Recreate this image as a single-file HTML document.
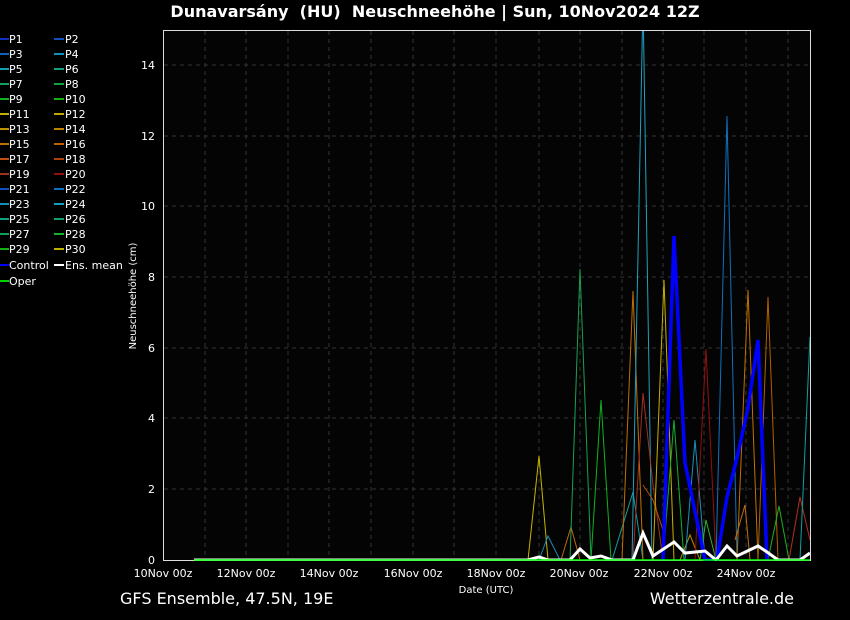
<!DOCTYPE html>
<html><head><meta charset="utf-8"><style>
body{margin:0;background:#000;width:850px;height:620px;overflow:hidden;font-family:"DejaVu Sans","Liberation Sans",sans-serif;}
</style></head><body>
<svg width="850" height="620" xmlns="http://www.w3.org/2000/svg" style="position:absolute;left:0;top:0">
<rect width="850" height="620" fill="#000"/>
<text x="435" y="17" fill="#fff" font-size="16" font-weight="bold" text-anchor="middle" font-family="DejaVu Sans, sans-serif" xml:space="preserve">Dunavarsány  (HU)  Neuschneehöhe | Sun, 10Nov2024 12Z</text>
<rect x="163.5" y="30.5" width="647" height="530" fill="#040404" stroke="#ddd" stroke-width="1"/>
<g stroke="#333" stroke-dasharray="4,4" stroke-width="1">
<line x1="205" y1="31" x2="205" y2="560"/><line x1="246" y1="31" x2="246" y2="560"/><line x1="288" y1="31" x2="288" y2="560"/><line x1="329" y1="31" x2="329" y2="560"/><line x1="371" y1="31" x2="371" y2="560"/><line x1="413" y1="31" x2="413" y2="560"/><line x1="454" y1="31" x2="454" y2="560"/><line x1="496" y1="31" x2="496" y2="560"/><line x1="539" y1="31" x2="539" y2="560"/><line x1="580" y1="31" x2="580" y2="560"/><line x1="622" y1="31" x2="622" y2="560"/><line x1="663" y1="31" x2="663" y2="560"/><line x1="704" y1="31" x2="704" y2="560"/><line x1="746" y1="31" x2="746" y2="560"/><line x1="788" y1="31" x2="788" y2="560"/>
<line x1="164" y1="65" x2="810" y2="65"/><line x1="164" y1="136" x2="810" y2="136"/><line x1="164" y1="206" x2="810" y2="206"/><line x1="164" y1="277" x2="810" y2="277"/><line x1="164" y1="348" x2="810" y2="348"/><line x1="164" y1="418" x2="810" y2="418"/><line x1="164" y1="489" x2="810" y2="489"/>
</g>
<g fill="#fff" font-size="11" text-anchor="end">
<text x="155" y="69">14</text><text x="155" y="140">12</text><text x="155" y="210">10</text><text x="155" y="281">8</text><text x="155" y="352">6</text><text x="155" y="422">4</text><text x="155" y="493">2</text><text x="155" y="564">0</text>
</g>
<g fill="#fff" font-size="11" text-anchor="middle">
<text x="163" y="577">10Nov 00z</text><text x="246" y="577">12Nov 00z</text><text x="329" y="577">14Nov 00z</text><text x="413" y="577">16Nov 00z</text><text x="496" y="577">18Nov 00z</text><text x="579" y="577">20Nov 00z</text><text x="663" y="577">22Nov 00z</text><text x="746" y="577">24Nov 00z</text>
<text x="486" y="593" font-size="10">Date (UTC)</text>
</g>
<text transform="translate(136,296) rotate(-90)" fill="#fff" font-size="10" text-anchor="middle">Neuschneehöhe (cm)</text>
<svg x="164" y="31" width="646" height="530" viewBox="164 31 646 530" overflow="hidden">
<g fill="none" stroke-width="1">
<polyline stroke="#c8b400" points="528,560 539,456 548,560"/>
<polyline stroke="#1a8ab0" points="539,560 548,536 560,560"/>
<polyline stroke="#c06a10" points="561,560 571,527 580,560"/>
<polyline stroke="#1aa050" points="570,560 580,269 591,560"/>
<polyline stroke="#10b020" points="591,560 601,400 611,560"/>
<polyline stroke="#10a0a0" points="612,560 633,492 643,560"/>
<polyline stroke="#c07000" points="622,560 633,291 643,560"/>
<polyline stroke="#20a0c0" points="632,560 643,0 652,560"/>
<polyline stroke="#a03020" points="633,560 643,393 653,485 663,560"/>
<polyline stroke="#b05010" points="643,485 653,500 663,530"/>
<polyline stroke="#c8b000" points="653,560 664,280 674,560"/>
<polyline stroke="#10b030" points="663,560 674,420 684,560"/>
<polyline stroke="#c09000" points="680,560 690,535 700,560"/>
<polyline stroke="#1a90c0" points="685,560 695,440 705,560"/>
<polyline stroke="#30b030" points="700,560 706,520 716,560"/>
<polyline stroke="#901010" points="695,560 706,349 716,560"/>
<polyline stroke="#1070c0" points="716,560 727,116 737,560"/>
<polyline stroke="#c07000" points="737,560 748,290 758,560"/>
<polyline stroke="#b06000" points="758,560 768,297 778,560"/>
<polyline stroke="#c07010" points="735,540 745,505 750,560"/>
<polyline stroke="#20b020" points="768,560 779,506 789,560"/>
<polyline stroke="#b03020" points="789,560 800,497 810,540"/>
<polyline stroke="#10a0a0" points="800,560 810,337"/>
<polyline stroke="#0000ff" stroke-width="3.5" points="663,560 674,236 685,463 705,560 717,560 727,497 737,458 748,408 758,340 767,560"/>
<polyline stroke="#fff" stroke-width="3" points="194,560 528,560 539,557 548,560 570,560 580,549 590,558 601,556 612,560 633,560 643,533 653,556 674,542 685,553 705,551 716,560 727,546 737,556 758,546 767,552 778,560 800,560 810,553"/>
<line x1="194" y1="560" x2="810" y2="560" stroke="#00ff00" stroke-width="1.5"/>
</g>
</svg>
<g font-size="11" fill="#fff">
<g stroke-width="2">
<line x1="0" y1="39" x2="9" y2="39" stroke="#1030c0"/><line x1="54" y1="39" x2="64" y2="39" stroke="#1050c0"/>
<line x1="0" y1="54" x2="9" y2="54" stroke="#1060c0"/><line x1="54" y1="54" x2="64" y2="54" stroke="#1090c0"/>
<line x1="0" y1="69" x2="9" y2="69" stroke="#10a0b0"/><line x1="54" y1="69" x2="64" y2="69" stroke="#10a080"/>
<line x1="0" y1="84" x2="9" y2="84" stroke="#10a060"/><line x1="54" y1="84" x2="64" y2="84" stroke="#10a040"/>
<line x1="0" y1="99" x2="9" y2="99" stroke="#10b020"/><line x1="54" y1="99" x2="64" y2="99" stroke="#10b010"/>
<line x1="0" y1="114" x2="9" y2="114" stroke="#c0b000"/><line x1="54" y1="114" x2="64" y2="114" stroke="#c0a800"/>
<line x1="0" y1="129" x2="9" y2="129" stroke="#c09000"/><line x1="54" y1="129" x2="64" y2="129" stroke="#c08000"/>
<line x1="0" y1="144" x2="9" y2="144" stroke="#c07000"/><line x1="54" y1="144" x2="64" y2="144" stroke="#c06000"/>
<line x1="0" y1="159" x2="9" y2="159" stroke="#c05010"/><line x1="54" y1="159" x2="64" y2="159" stroke="#b04010"/>
<line x1="0" y1="174" x2="9" y2="174" stroke="#a03020"/><line x1="54" y1="174" x2="64" y2="174" stroke="#901010"/>
<line x1="0" y1="189" x2="9" y2="189" stroke="#1050c0"/><line x1="54" y1="189" x2="64" y2="189" stroke="#1070c0"/>
<line x1="0" y1="204" x2="9" y2="204" stroke="#1090c0"/><line x1="54" y1="204" x2="64" y2="204" stroke="#10a0c0"/>
<line x1="0" y1="219" x2="9" y2="219" stroke="#10a080"/><line x1="54" y1="219" x2="64" y2="219" stroke="#10a070"/>
<line x1="0" y1="234" x2="9" y2="234" stroke="#10a050"/><line x1="54" y1="234" x2="64" y2="234" stroke="#10b030"/>
<line x1="0" y1="249" x2="9" y2="249" stroke="#10b010"/><line x1="54" y1="249" x2="64" y2="249" stroke="#c0b000"/>
<line x1="0" y1="265" x2="9" y2="265" stroke="#0000ff"/><line x1="54" y1="265" x2="64" y2="265" stroke="#fff"/>
<line x1="0" y1="281" x2="9" y2="281" stroke="#00d000"/>
</g>
<text x="9" y="43">P1</text><text x="65" y="43">P2</text>
<text x="9" y="58">P3</text><text x="65" y="58">P4</text>
<text x="9" y="73">P5</text><text x="65" y="73">P6</text>
<text x="9" y="88">P7</text><text x="65" y="88">P8</text>
<text x="9" y="103">P9</text><text x="65" y="103">P10</text>
<text x="9" y="118">P11</text><text x="65" y="118">P12</text>
<text x="9" y="133">P13</text><text x="65" y="133">P14</text>
<text x="9" y="148">P15</text><text x="65" y="148">P16</text>
<text x="9" y="163">P17</text><text x="65" y="163">P18</text>
<text x="9" y="178">P19</text><text x="65" y="178">P20</text>
<text x="9" y="193">P21</text><text x="65" y="193">P22</text>
<text x="9" y="208">P23</text><text x="65" y="208">P24</text>
<text x="9" y="223">P25</text><text x="65" y="223">P26</text>
<text x="9" y="238">P27</text><text x="65" y="238">P28</text>
<text x="9" y="253">P29</text><text x="65" y="253">P30</text>
<text x="9" y="269">Control</text><text x="65" y="269">Ens. mean</text>
<text x="9" y="285">Oper</text>
</g>
<text x="120" y="604" fill="#fff" font-size="16">GFS Ensemble, 47.5N, 19E</text>
<text x="794" y="604" fill="#fff" font-size="16" text-anchor="end">Wetterzentrale.de</text>
</svg>
</body></html>
